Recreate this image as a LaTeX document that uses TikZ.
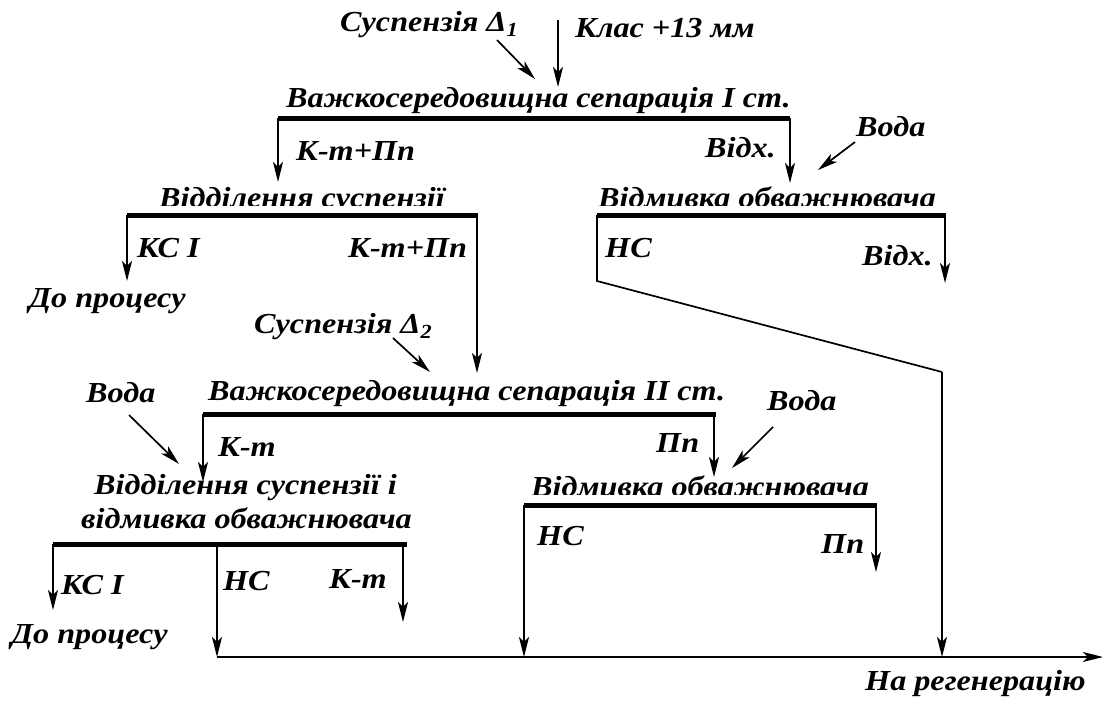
\documentclass[tikz,border=0pt]{standalone}
\usepackage{fontspec}
\setmainfont{Liberation Serif}[FakeStretch=1.11]
\usetikzlibrary{arrows.meta}
\tikzset{
  lbl/.style={font=\fontsize{29}{34}\selectfont\bfseries\itshape, inner sep=0pt, anchor=base west},
  barline/.style={line width=5pt},
  flow/.style={line width=1.7pt, -{Stealth[length=20pt,width=10pt,inset=5pt]}},
  plainline/.style={line width=1.7pt},
}
\newcommand\mysub[1]{\raisebox{-0.4ex}{\fontsize{20}{22}\selectfont #1}}
\begin{document}
\begin{tikzpicture}[x=1pt,y=-1pt]
\useasboundingbox (0,0) rectangle (1103,702);

% ---------- texts ----------
\node[lbl] (susp1) at (340,31) {Суспензія Δ\mysub{1}};
\node[lbl] (klas) at (575,37) {Клас +13 мм};
\node[lbl] (vs1) at (286,107) {Важкосередовищна сепарація І ст.};
\node[lbl] (kp1) at (296,160) {К-т+Пп};
\node[lbl] (vidx1) at (705,157) {Відх.};
\node[lbl] (voda1) at (856,136) {Вода};
\begin{scope}
  \clip (100,150) rectangle (500,205);
  \node[lbl] (vids1) at (159,207) {Відділення суспензії};
\end{scope}
\node[lbl] (ks1) at (137,257) {КС І};
\node[lbl] (dp1) at (29,307) {До процесу};
\node[lbl] (kp2) at (348,257) {К-т+Пп};
\node[lbl] (susp2) at (254,333) {Суспензія Δ\mysub{2}};
\begin{scope}
  \clip (580,150) rectangle (960,205);
  \node[lbl] (vo1) at (598,207) {Відмивка обважнювача};
\end{scope}
\node[lbl] (ns1) at (605,257) {НС};
\node[lbl] (vidx2) at (862,265) {Відх.};
\node[lbl] (voda2) at (86,402) {Вода};
\node[lbl] (vs2) at (208,400) {Важкосередовищна сепарація ІІ ст.};
\node[lbl] (kt1) at (218,456) {К-т};
\node[lbl] (pp1) at (656,452) {Пп};
\node[lbl] (voda3) at (767,410) {Вода};
\node[lbl] (vids2a) at (94,494) {Відділення суспензії і};
\node[lbl] (vids2b) at (81,528) {відмивка обважнювача};
\node[lbl] (ks2) at (61,594) {КС І};
\node[lbl] (dp2) at (11,643) {До процесу};
\node[lbl] (ns2) at (223,590) {НС};
\node[lbl] (kt2) at (329,588) {К-т};
\begin{scope}
  \clip (510,440) rectangle (890,494);
  \node[lbl] (vo2) at (531,496) {Відмивка обважнювача};
\end{scope}
\node[lbl] (ns3) at (537,545) {НС};
\node[lbl] (pp2) at (821,553) {Пп};
\node[lbl] (regen) at (865,690) {На регенерацію};

% ---------- coordinates ----------
\coordinate (in1s) at (558,20);  \coordinate (in1e) at (558,87);
\coordinate (sd1s) at (497,40);  \coordinate (sd1e) at (535,79);
\coordinate (b1l) at (278,118);  \coordinate (b1r) at (790,118);
\coordinate (b1lt) at (278,182); \coordinate (b1rt) at (790,183);
\coordinate (w1s) at (855,142);  \coordinate (w1e) at (818,170);

\coordinate (b2l) at (127,215);  \coordinate (b2r) at (478,215);
\coordinate (b2lt) at (127,281); \coordinate (b2rd) at (477,215); \coordinate (b2rt) at (477,373);
\coordinate (sd2s) at (393,338); \coordinate (sd2e) at (430,372);

\coordinate (b3l) at (597,215);  \coordinate (b3r) at (946,215);
\coordinate (b3rd) at (945,215); \coordinate (b3rt) at (945,283);
\coordinate (b3lk) at (597,281); \coordinate (b3dk) at (942,372);
\coordinate (b3de) at (942,657);

\coordinate (w2s) at (129,415);  \coordinate (w2e) at (179,464);
\coordinate (b4l) at (203,414);  \coordinate (b4r) at (716,414);
\coordinate (b4lt) at (203,482); \coordinate (b4rd) at (714,414); \coordinate (b4rt) at (714,477);
\coordinate (w3s) at (773,427);  \coordinate (w3e) at (732,468);

\coordinate (b5l) at (53,544);   \coordinate (b5r) at (407,544);
\coordinate (b5lt) at (53,610);
\coordinate (b5m) at (217,544);  \coordinate (b5mt) at (217,657);
\coordinate (b5rd) at (403,544); \coordinate (b5rt) at (403,622);

\coordinate (b6l) at (524,505);  \coordinate (b6r) at (877,505);
\coordinate (b6lt) at (524,657);
\coordinate (b6rd) at (876,505); \coordinate (b6rt) at (876,572);

\coordinate (regs) at (217,657); \coordinate (rege) at (1103,657);

% ---------- bars ----------
\foreach \a/\b in {b1l/b1r, b2l/b2r, b3l/b3r, b4l/b4r, b5l/b5r, b6l/b6r}
  \draw[barline] (\a) -- (\b);

% ---------- flows ----------
\draw[flow] (in1s) -- (in1e);
\draw[flow] (sd1s) -- (sd1e);
\draw[flow] (b1l) -- (b1lt);
\draw[flow] (b1r) -- (b1rt);
\draw[flow] (w1s) -- (w1e);
\draw[flow] (b2l) -- (b2lt);
\draw[flow] (b2rd) -- (b2rt);
\draw[flow] (sd2s) -- (sd2e);
\draw[flow] (b3rd) -- (b3rt);
\draw[plainline] (b3l) -- (b3lk) -- (b3dk);
\draw[flow] (b3dk) -- (b3de);
\draw[flow] (w2s) -- (w2e);
\draw[flow] (b4l) -- (b4lt);
\draw[flow] (b4rd) -- (b4rt);
\draw[flow] (w3s) -- (w3e);
\draw[flow] (b5l) -- (b5lt);
\draw[flow] (b5m) -- (b5mt);
\draw[flow] (b5rd) -- (b5rt);
\draw[flow] (b6l) -- (b6lt);
\draw[flow] (b6rd) -- (b6rt);
\draw[flow] (regs) -- (rege);
\end{tikzpicture}
\end{document}
